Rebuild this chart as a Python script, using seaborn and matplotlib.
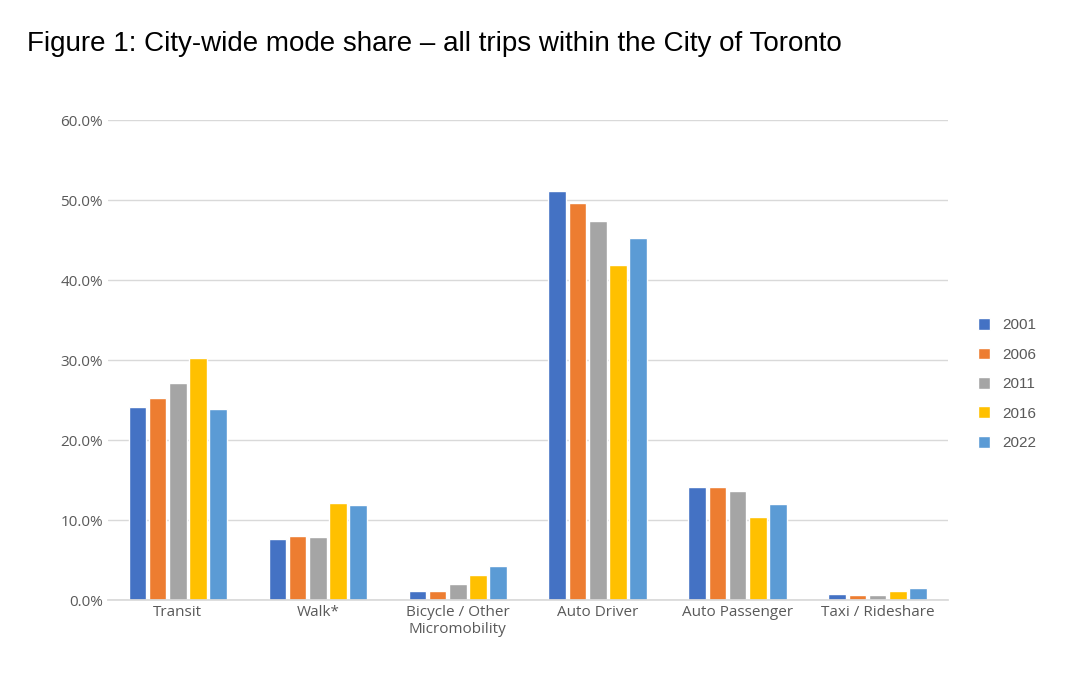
import pandas as pd
import matplotlib.pyplot as plt
import seaborn as sns
from matplotlib.ticker import PercentFormatter

categories = ["Transit", "Walk*", "Bicycle / Other\nMicromobility", "Auto Driver",
              "Auto Passenger", "Taxi / Rideshare"]
years = ["2001", "2006", "2011", "2016", "2022"]
share = {
    "2001": [24.1, 7.6, 1.2, 51.1, 14.1, 0.8],
    "2006": [25.3, 8.0, 1.2, 49.6, 14.1, 0.7],
    "2011": [27.1, 7.9, 2.0, 47.4, 13.7, 0.7],
    "2016": [30.2, 12.2, 3.1, 41.9, 10.4, 1.2],
    "2022": [23.9, 11.9, 4.3, 45.2, 12.0, 1.5],
}
colors = ["#4472C4", "#ED7D31", "#A5A5A5", "#FFC000", "#5B9BD5"]

rows = [{"Mode": c, "Year": y, "Share": share[y][i]}
        for i, c in enumerate(categories) for y in years]
df = pd.DataFrame(rows)

sns.set_theme(style="white")
plt.rcParams["font.family"] = ["Liberation Sans", "DejaVu Sans"]

fig = plt.figure(figsize=(10.78, 6.82), dpi=100)
ax = fig.add_axes([0.100, 0.120, 0.779, 0.704])
sns.barplot(data=df, x="Mode", y="Share", hue="Year", palette=colors,
            width=0.72, gap=0.12, ax=ax, saturation=1)

ax.set_ylim(0, 60)
ax.set_yticks(range(0, 61, 10))
ax.yaxis.set_major_formatter(PercentFormatter(decimals=1))
ax.grid(axis="y", color="#D9D9D9", linewidth=1)
ax.set_axisbelow(True)
for s in ["top", "right", "left"]:
    ax.spines[s].set_visible(False)
ax.spines["bottom"].set_color("#D9D9D9")
ax.set_xlabel("")
ax.set_ylabel("")
ax.tick_params(axis="both", colors="#595959", labelsize=11, length=0)
for lab in ax.get_xticklabels() + ax.get_yticklabels():
    lab.set_family(["Open Sans", "DejaVu Sans"])

ax.legend(frameon=False, loc="center left", bbox_to_anchor=(1.02, 0.45),
          fontsize=11, labelcolor="#595959", handlelength=0.8, handleheight=0.8,
          labelspacing=1.0)

fig.text(0.025, 0.935, "Figure 1: City-wide mode share \u2013 all trips within the City of Toronto",
         fontsize=20, color="black", va="center")

fig.savefig("out.png", dpi=100)
